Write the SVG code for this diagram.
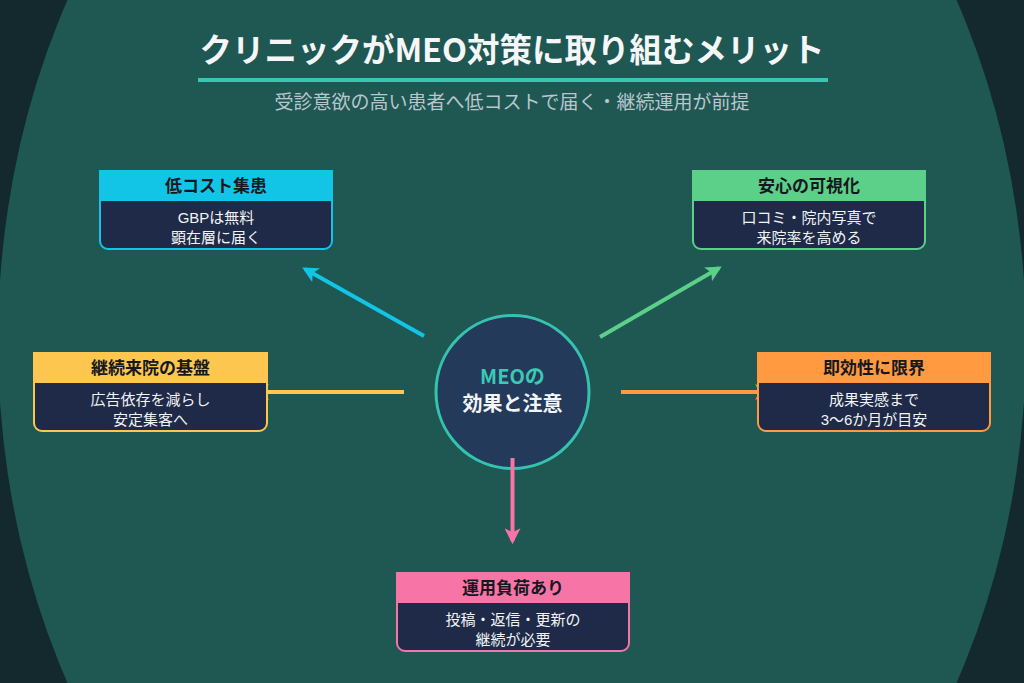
<svg xmlns="http://www.w3.org/2000/svg" width="1024" height="683" viewBox="0 0 1024 683">
<defs>
<style>
.jp{font-family:"Noto Sans CJK JP","Noto Sans",sans-serif}
.la{font-family:"Liberation Sans","Noto Sans CJK JP",sans-serif}
.title{font-size:32.5px;font-weight:700;fill:#f4f6f8}
.sub{font-size:19px;fill:#b9c6cc}
.hd{font-size:17px;font-weight:700;fill:#15191f}
.bd{font-size:15px;fill:#f2f4f6}
.body{fill:#1e2a47;stroke-width:2}
.ctext{font-size:20px;font-weight:700}
.con{stroke-width:4;fill:none;stroke-linecap:butt}
</style>
<marker id="aC" viewBox="0 0 10 10" refX="8" refY="5" markerWidth="4" markerHeight="4" orient="auto"><path d="M0,0 L10,5 L0,10 L2.5,5 z" fill="#12c5e6"/></marker>
<marker id="aG" viewBox="0 0 10 10" refX="8" refY="5" markerWidth="4" markerHeight="4" orient="auto"><path d="M0,0 L10,5 L0,10 L2.5,5 z" fill="#5ccf89"/></marker>
<marker id="aY" viewBox="0 0 10 10" refX="8" refY="5" markerWidth="4" markerHeight="4" orient="auto"><path d="M0,0 L10,5 L0,10 L2.5,5 z" fill="#fdc64e"/></marker>
<marker id="aO" viewBox="0 0 10 10" refX="8" refY="5" markerWidth="4" markerHeight="4" orient="auto"><path d="M0,0 L10,5 L0,10 L2.5,5 z" fill="#ff9a40"/></marker>
<marker id="aP" viewBox="0 0 10 10" refX="8" refY="5" markerWidth="4" markerHeight="4" orient="auto"><path d="M0,0 L10,5 L0,10 L2.5,5 z" fill="#f775a6"/></marker>
</defs>
<rect x="0" y="0" width="1024" height="683" fill="#14292e"/>
<ellipse cx="512" cy="341.5" rx="514" ry="680" fill="#1f5753"/>

<g id="title">
<text class="jp title" x="512" y="62" text-anchor="middle">クリニックがMEO対策に取り組むメリット</text>
<rect x="198" y="78" width="630" height="4" fill="#36c6b2"/>
<text class="jp sub" x="512" y="109" text-anchor="middle">受診意欲の高い患者へ低コストで届く・継続運用が前提</text>
</g>

<g id="center">
<circle cx="512.5" cy="392" r="76.5" fill="#233a5a" stroke="#35c3b0" stroke-width="3"/>
<text class="jp ctext" x="512.5" y="384" text-anchor="middle" fill="#3cc8b4">MEOの</text>
<text class="jp ctext" x="512.5" y="411" text-anchor="middle" fill="#f2f4f6">効果と注意</text>
</g>

<g id="connectors">
<line class="con" x1="424" y1="336" x2="305" y2="269" stroke="#12c5e6" marker-end="url(#aC)"/>
<line class="con" x1="600" y1="337" x2="719" y2="268" stroke="#5ccf89" marker-end="url(#aG)"/>
<line class="con" x1="404" y1="392" x2="256" y2="392" stroke="#fdc64e" marker-end="url(#aY)"/>
<line class="con" x1="621" y1="392" x2="768" y2="392" stroke="#ff9a40" marker-end="url(#aO)"/>
<line class="con" x1="512.5" y1="458" x2="512.5" y2="541" stroke="#f775a6" marker-end="url(#aP)"/>
</g>

<g id="node-low-cost">
<rect class="body" x="100" y="171" width="232" height="78" rx="8" stroke="#12c5e6"/>
<rect x="99" y="170" width="234" height="31" fill="#12c5e6"/>
<text class="jp hd" x="216" y="192" text-anchor="middle">低コスト集患</text>
<text class="la bd" x="216" y="223" text-anchor="middle">GBPは無料</text>
<text class="la bd" x="216" y="243" text-anchor="middle">顕在層に届く</text>
</g>

<g id="node-trust">
<rect class="body" x="693" y="171" width="232" height="78" rx="8" stroke="#5ccf89"/>
<rect x="692" y="170" width="234" height="31" fill="#5ccf89"/>
<text class="jp hd" x="809" y="192" text-anchor="middle">安心の可視化</text>
<text class="la bd" x="809" y="223" text-anchor="middle">口コミ・院内写真で</text>
<text class="la bd" x="809" y="243" text-anchor="middle">来院率を高める</text>
</g>

<g id="node-base">
<rect class="body" x="34" y="353" width="233" height="78" rx="8" stroke="#fdc64e"/>
<rect x="33" y="352" width="235" height="31" fill="#fdc64e"/>
<text class="jp hd" x="150.5" y="374" text-anchor="middle">継続来院の基盤</text>
<text class="la bd" x="150.5" y="405" text-anchor="middle">広告依存を減らし</text>
<text class="la bd" x="150.5" y="425" text-anchor="middle">安定集客へ</text>
</g>

<g id="node-limit">
<rect class="body" x="758" y="353" width="232" height="78" rx="8" stroke="#ff9a40"/>
<rect x="757" y="352" width="234" height="31" fill="#ff9a40"/>
<text class="jp hd" x="874" y="374" text-anchor="middle">即効性に限界</text>
<text class="la bd" x="874" y="405" text-anchor="middle">成果実感まで</text>
<text class="la bd" x="874" y="425" text-anchor="middle">3〜6か月が目安</text>
</g>

<g id="node-load">
<rect class="body" x="397" y="573" width="232" height="78" rx="8" stroke="#f775a6"/>
<rect x="396" y="572" width="234" height="31" fill="#f775a6"/>
<text class="jp hd" x="513" y="594" text-anchor="middle">運用負荷あり</text>
<text class="la bd" x="513" y="625" text-anchor="middle">投稿・返信・更新の</text>
<text class="la bd" x="513" y="645" text-anchor="middle">継続が必要</text>
</g>
</svg>
